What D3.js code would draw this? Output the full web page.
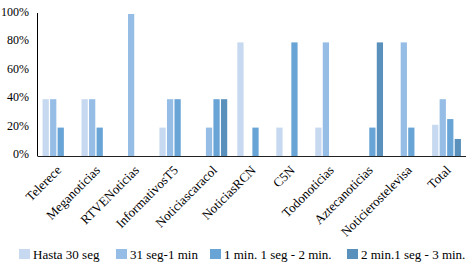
<!DOCTYPE html>
<html><head><meta charset="utf-8">
<script src="https://cdn.jsdelivr.net/npm/d3@7/dist/d3.min.js"></script>
<style>body{margin:0;background:#fff}svg{display:block}</style>
</head><body>
<svg id="c" width="473" height="266"></svg>
<script>
const categories = ["Telerece","Meganoticias","RTVENoticias","InformativosT5","Noticiascaracol","NoticiasRCN","C5N","Todonoticias","Aztecanoticias","Noticierostelevisa","Total"];
const seriesNames = ["Hasta 30 seg","31 seg-1 min","1 min. 1 seg - 2 min.","2 min.1 seg - 3 min."];
const hasta30 =   [40,40,0,20,0,80,20,20,0,0,22];
const s31a1 =     [40,40,100,40,20,0,0,80,0,80,40];
const m1a2 =      [20,20,0,40,40,20,80,0,20,20,26];
const m2a3 =      [0,0,0,0,40,0,0,0,80,0,12];
const yTicks = [0,20,40,60,80,100];
const colors = ["#c6d9f0","#95bde6","#68a4d6","#5990bc"];

const values = [hasta30, s31a1, m1a2, m2a3];
const svg = d3.select("#c");
const FONT = "Liberation Serif";
const pLeft = 37.5, pRight = 466, pTop = 14, pBottom = 156;
const x = d3.scaleBand().domain(categories).range([pLeft, pRight]).paddingInner(0.26).paddingOuter(0.13);
const x1 = d3.scaleBand().domain(seriesNames).range([0, x.bandwidth()]).paddingInner(0.17);
const y = d3.scaleLinear().domain([0,100]).range([pBottom, pTop]);

const g = svg.append("g");
seriesNames.forEach((s, si) => {
  g.selectAll(null).data(categories).enter().append("rect")
    .attr("x", c => x(c) + x1(s))
    .attr("width", x1.bandwidth())
    .attr("y", (c, i) => y(values[si][i]))
    .attr("height", (c, i) => y(0) - y(values[si][i]))
    .attr("fill", colors[si]);
});

// axes
svg.append("line").attr("x1", pLeft).attr("x2", pLeft).attr("y1", pTop - 1).attr("y2", pBottom).attr("stroke", "#000").attr("stroke-width", 1);
svg.append("line").attr("x1", pLeft).attr("x2", pRight).attr("y1", pBottom + 0.5).attr("y2", pBottom + 0.5).attr("stroke", "#222").attr("stroke-width", 1);
svg.selectAll(".yl").data(yTicks).enter().append("text")
  .attr("x", 29).attr("y", d => y(d) + 2)
  .attr("text-anchor", "end").attr("font-size", 12).attr("font-family", FONT)
  .text(d => d + "%");

// x labels
svg.selectAll(".xl").data(categories).enter().append("text")
  .attr("transform", c => `translate(${x(c) + x.bandwidth()/2 + 5},${pBottom + 15}) rotate(-45)`)
  .attr("text-anchor", "end").attr("font-size", 13).attr("font-family", FONT)
  .text(c => c);

// legend
const legX = [19, 116, 210, 347];
seriesNames.forEach((s, i) => {
  svg.append("rect").attr("x", legX[i]).attr("y", 249).attr("width", 11).attr("height", 10).attr("fill", colors[i]);
  svg.append("text").attr("x", legX[i] + 14).attr("y", 259).attr("font-size", 13).attr("font-family", FONT).text(s);
});
</script>
</body></html>
